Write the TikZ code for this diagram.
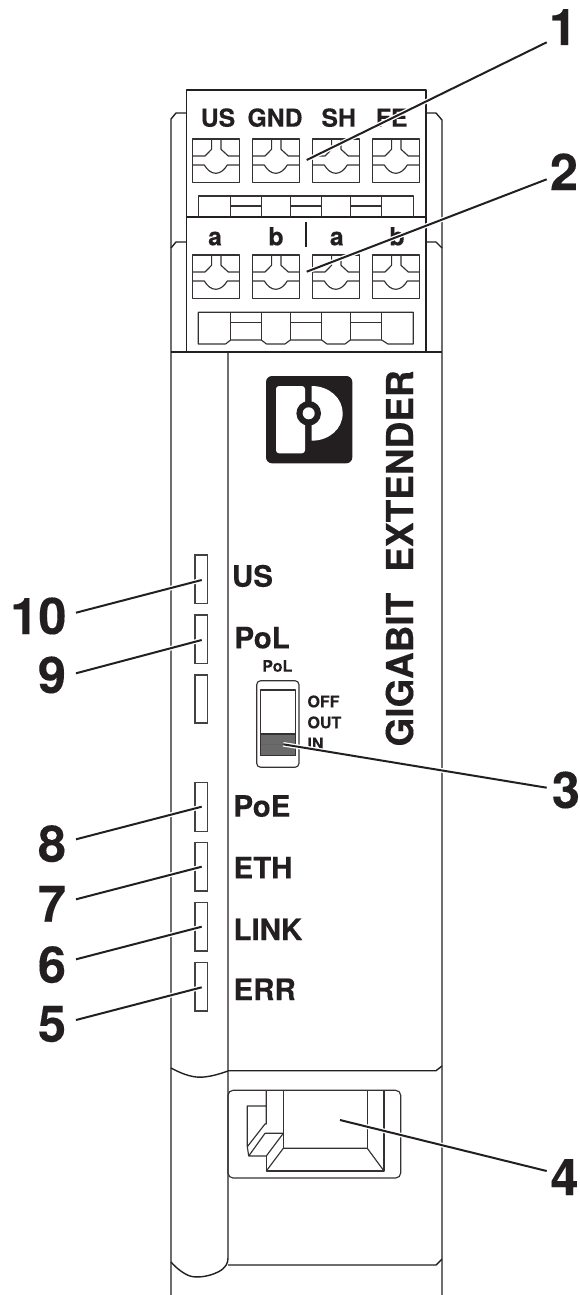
\documentclass[tikz,border=0pt]{standalone}
\usepackage{fontspec}
\setmainfont{TeX Gyre Heros}[BoldFeatures={FakeBold=0.25}]
\definecolor{ink}{HTML}{231F20}
\definecolor{slidegray}{HTML}{6A6A6A}
\tikzset{
  body/.style={draw=ink,line width=1.4pt,line join=round},
  thin part/.style={draw=ink!92,line width=1.15pt,line join=round},
  lbl/.style={inner sep=0pt,outer sep=0pt,text=ink,font=\bfseries\fontsize{29.5}{29.5}\selectfont,anchor=base west},
  termlbl/.style={inner sep=0pt,outer sep=0pt,text=ink,font=\bfseries\fontsize{24.8}{24.8}\selectfont,anchor=base},
  tiny lbl/.style={inner sep=0pt,outer sep=0pt,text=ink,font=\bfseries\fontsize{16}{16}\selectfont,anchor=base west},
  num/.style={inner sep=0pt,outer sep=0pt,text=ink,font=\bfseries\fontsize{50.5}{50.5}\selectfont},
  callout/.style={draw=ink,line width=2pt,preaction={draw=white,line width=4.6pt}},
  led/.style={draw=ink!85,line width=1.15pt}
}
\newcommand\terminalblock[2]{%
  \begin{scope}[shift={(#1,#2)}]
    \draw[thin part] (0,0) rectangle (47,43.7);
    \draw[thin part] (0,17) -- (12.7,17) -- (19.3,10.3) -- (19.3,0);
    \draw[thin part] (28.7,0) -- (28.7,10.3) -- (36,17) -- (47,17);
    \draw[thin part] (0,26) -- (12,26) .. controls (15,31) and (19,34.3) .. (23.5,34.3) .. controls (28,34.3) and (32,31) .. (35,26) -- (47,26);
  \end{scope}}
\begin{document}
\begin{tikzpicture}[x=1pt,y=-1pt]
\useasboundingbox (0,0) rectangle (580,1295);
% rails and housing
\draw[body] (186.5,113) -- (176,113) -- (171,119) -- (171,1295);
\draw[body] (186.5,242) -- (176,242) -- (171,248);
\draw[body] (426,113) -- (436,113) -- (442,120) -- (442,1295);
\draw[body] (426,242) -- (436,242) -- (442,248);
\draw[body] (186.5,217) rectangle (426,90);
\draw[body] (186.5,217) rectangle (426,352);
\draw[body] (171,352) -- (442,352);
\draw[body] (228,352) -- (228,1258) .. controls (228,1263) and (226,1268) .. (218,1272) .. controls (208,1277) and (196,1278) .. (190,1276) .. controls (184,1274) and (176,1268) .. (171,1262);
\draw[body] (171,1068) .. controls (184,1075) and (194,1078) .. (204,1077) .. controls (214,1076) and (222,1073) .. (228,1071);
\draw[body] (228,1070.7) -- (436,1070.7) -- (442,1066);
\draw[body] (228,1265) -- (436,1265) -- (442,1259);
% terminals
\terminalblock{192.3}{139}\terminalblock{252.3}{139}\terminalblock{312.3}{139}\terminalblock{372.3}{139}
\terminalblock{192.3}{255}\terminalblock{252.3}{255}\terminalblock{312.3}{255}\terminalblock{372.3}{255}
% upper strip
\draw[thin part] (198.3,217) -- (198.3,196) -- (413.3,196) -- (413.3,217);
\foreach \px in {230.7,261.3,290.3,321.7,350.3,381.7} \draw[thin part] (\px,196) -- (\px,217);
\draw[thin part] (230.7,206) -- (261.3,206) (290.3,206) -- (321.7,206) (350.3,206) -- (381.7,206);
% lower strip
\draw[thin part] (198.3,312.3) -- (413.3,312.3) -- (413.3,344) -- (388,344) -- (381.7,340) -- (350.3,340) -- (345,344) -- (327,344) -- (321.7,340) -- (290.3,340) -- (285,344) -- (266.5,344) -- (261.3,340) -- (230.7,340) -- (225.5,344) -- (198.3,344) -- cycle;
\foreach \px in {230.7,261.3,290.3,321.7,350.3,381.7} \draw[thin part] (\px,312.3) -- (\px,340);
\draw[thin part] (230.7,322.3) -- (261.3,322.3) (290.3,322.3) -- (321.7,322.3) (350.3,322.3) -- (381.7,322.3);
% terminal labels
\node[termlbl] (tUS) at (218,126.7) {US};
\node[termlbl] (tGND) at (275,126.7) {GND};
\node[termlbl] (tSH) at (338.7,126.7) {SH};
\node[termlbl] (tFE) at (391.7,126.7) {FE};
\node[termlbl] (ta1) at (215,245.3) {a};
\node[termlbl] (tb1) at (276,245.3) {b};
\node[termlbl] (ta2) at (336.7,245.3) {a};
\node[termlbl] (tb2) at (397,245.3) {b};
\draw[draw=ink,line width=2.4pt] (306,222) -- (306,246.7);
% logo
\fill[ink,rounded corners=6pt] (266,376) rectangle (352.3,463.3);
\fill[white,rounded corners=3pt] (276,386) rectangle (305,453.3);
\fill[white] (311.7,386) .. controls (329,386) and (342.7,398) .. (342.7,413.3) .. controls (342.7,429) and (329,440.7) .. (311.7,440.7) -- cycle;
\fill[ink] (308.7,413.3) circle (12.3);
\fill[white] (308.7,413.3) circle (6);
% rotated title
\node[inner sep=0pt,outer sep=0pt,text=ink,font=\bfseries\fontsize{37}{37}\selectfont,rotate=90,anchor=base west] (title) at (413,746.5) {GIGABIT\hspace{21pt}EXTENDER};
% LEDs
\draw[led] (195,555) rectangle (207.7,603.3);
\draw[led] (195,615) rectangle (207.7,663.3);
\draw[led] (195,675) rectangle (207.7,723);
\draw[led] (195,782.7) rectangle (207.7,831.3);
\draw[led] (195,842.7) rectangle (207.7,891);
\draw[led] (195,902.7) rectangle (207.7,951);
\draw[led] (195,962.7) rectangle (207.7,1011);
% LED labels
\node[lbl] (lUS) at (232,586.7) {US};
\node[lbl] (lPoL) at (234.5,648.3) {PoL};
\node[lbl] (lPoE) at (233.5,816.7) {PoE};
\node[lbl] (lETH) at (233.5,878.3) {ETH};
\node[lbl] (lLINK) at (233.5,940) {LINK};
\node[lbl] (lERR) at (233.5,1000) {ERR};
% switch
\node[tiny lbl] (sPoL) at (262.3,671.7) {PoL};
\draw[thin part,rounded corners=4pt] (256.7,680.7) rectangle (299,767.3);
\fill[slidegray] (260.3,734) rectangle (295.7,755.7);
\draw[thin part] (260.3,690) rectangle (295.7,755.7);
\draw[thin part] (260.3,734) -- (295.7,734);
\draw[draw=ink!70,line width=0.9pt] (261,744.3) -- (295,744.3);
\node[tiny lbl] (sOFF) at (307.5,707.3) {OFF};
\node[tiny lbl] (sOUT) at (307.5,728.3) {OUT};
\node[tiny lbl] (sIN) at (307.5,749.3) {IN};
% RJ45 port
\draw[thin part,rounded corners=5pt] (228,1090.3) rectangle (400.7,1178);
\draw[thin part] (266.3,1090.3) -- (266.3,1106) -- (247.3,1106) -- (247.3,1146.7) -- (265,1124) -- (266.3,1124) -- (266.3,1106);
\draw[thin part] (247.3,1146.7) -- (248.7,1156) -- (266.3,1156) -- (283.3,1133.3) -- (265,1133.3) -- (248.7,1156);
\draw[thin part] (266.3,1156) -- (266.3,1171) -- (384,1171) -- (384,1090.3);
\draw[thin part] (266.3,1171) -- (283.3,1148.3) -- (367.3,1148.3) -- (384,1171);
\draw[thin part] (283.3,1090.3) -- (283.3,1148.3);
\draw[thin part] (367.3,1090.3) -- (367.3,1148.3);
% numbers
\node[num,anchor=base east] (n1) at (577,45) {1};
\node[num,anchor=base east] (n2) at (578,190) {2};
\node[num,anchor=base east] (n3) at (580,808) {3};
\node[num,anchor=base east] (n4) at (578.5,1195) {4};
\node[num,anchor=base east] (n5) at (66,1041.7) {5};
\node[num,anchor=base east] (n6) at (66,982.7) {6};
\node[num,anchor=base east] (n7) at (66,921.7) {7};
\node[num,anchor=base east] (n8) at (66,861.7) {8};
\node[num,anchor=base east] (n9) at (66,693) {9};
\node[num,anchor=base east] (n10) at (66.5,634) {10};
% callout ends
\coordinate (c1a) at (306.7,160);   \coordinate (c1b) at (546.7,42.3);
\coordinate (c2a) at (306.7,271.7); \coordinate (c2b) at (546.7,179.3);
\coordinate (c3a) at (283.3,744.3); \coordinate (c3b) at (546.7,787.7);
\coordinate (c4a) at (340,1120);    \coordinate (c4b) at (546.7,1171);
\coordinate (c5a) at (201.7,987.3); \coordinate (c5b) at (76,1020);
\coordinate (c6a) at (201.7,926.7); \coordinate (c6b) at (76,959.3);
\coordinate (c7a) at (201.7,866.7); \coordinate (c7b) at (76,899.3);
\coordinate (c8a) at (201.7,806.7); \coordinate (c8b) at (76,839.3);
\coordinate (c9a) at (201.7,640);   \coordinate (c9b) at (76,673.3);
\coordinate (c10a) at (201.7,580);  \coordinate (c10b) at (76,612.7);
\foreach \k in {1,...,10} \draw[callout] (c\k a) -- (c\k b);
\end{tikzpicture}
\end{document}
